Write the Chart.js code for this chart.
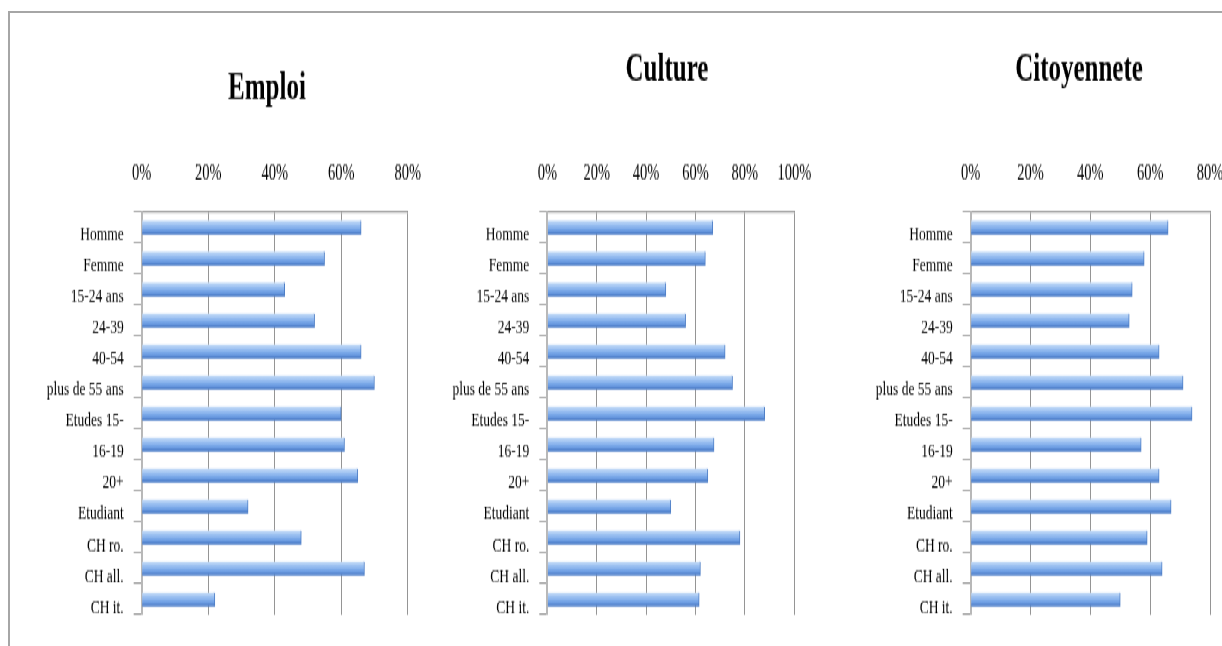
<!DOCTYPE html>
<html><head><meta charset="utf-8">
<script src="https://cdn.jsdelivr.net/npm/chart.js@4.4.1/dist/chart.umd.min.js"></script>
<style>
html,body{margin:0;padding:0;background:#fff;overflow:hidden;width:1222px;height:646px}
#frame{position:absolute;left:8px;top:11px;width:1300px;height:700px;border-left:2px solid #a6a6a6;border-top:2px solid #a6a6a6}
#stage{position:absolute;left:0;top:0;width:1400px;height:417px;transform-origin:0 0;transform:scaleY(1.5492)}
#stage canvas{position:absolute;top:0}
</style></head><body>
<div id="frame"></div>
<div id="stage"></div>
<script>
// ---- data ----
const categories = ['Homme','Femme','15-24 ans','24-39','40-54','plus de 55 ans','Etudes 15-','16-19','20+','Etudiant','CH ro.','CH all.','CH it.'];
const emploiValues = [66, 55, 43, 52, 66, 70, 60, 61, 65, 32, 48, 67, 22];
const cultureValues = [67, 64, 48, 56, 72, 75, 88, 67.5, 65, 50, 78, 62, 61.5];
const citoyenneteValues = [66, 58, 54, 53, 63, 71, 74, 57, 63, 67, 59, 64, 50];
const chartTitles = ['Emploi','Culture','Citoyennete'];
const axisMaxima = [80, 100, 80];
const tickStep = 20;
const seriesList = [emploiValues, cultureValues, citoyenneteValues];

// ---- layout (positions only) ----
const FONT = "'Liberation Serif', 'Times New Roman', serif";
const CANVAS_H = 417;
const specs = [
  {left:10,  plotLeft:141.7, plotRight:407.7, titleCenter:267,  titleTop:42.8, axisH:64.05},
  {left:440, plotLeft:547.3, plotRight:794.3, titleCenter:667,  titleTop:30.8, axisH:76.05},
  {left:850, plotLeft:970.7, plotRight:1210,  titleCenter:1079, titleTop:30.8, axisH:76.05}
];
const padB = CANVAS_H - 615/1.5492;

function barFill(ctx){
  const chart = ctx.chart; const ys = chart.scales && chart.scales.y;
  if (!chart.chartArea || !ys || ctx.dataIndex === undefined) return '#7aa8e8';
  const yc = ys.getPixelForValue(ctx.dataIndex);
  const h = 4.5;
  const g = chart.ctx.createLinearGradient(0, yc - h, 0, yc + h);
  g.addColorStop(0, '#c8def8');
  g.addColorStop(0.3, '#9fc3f2');
  g.addColorStop(0.65, '#74a4e7');
  g.addColorStop(1, '#4677c6');
  return g;
}

const stage = document.getElementById('stage');
specs.forEach((s, i) => {
  const rightSpace = 2*s.titleCenter - s.left - s.plotRight; // keeps title centred where it is
  const W = Math.round(s.plotRight - s.left + rightSpace);
  const yW = s.plotLeft - s.left;
  const cv = document.createElement('canvas');
  cv.width = W; cv.height = CANVAS_H;
  cv.style.left = s.left + 'px';
  stage.appendChild(cv);
  new Chart(cv, {
    type: 'bar',
    data: {
      labels: categories,
      datasets: [{
        data: seriesList[i],
        backgroundColor: barFill,
        borderColor: '#4f7fc6',
        borderWidth: {top:0, right:1, bottom:1, left:0},
        borderSkipped: 'start',
        barThickness: 9
      }]
    },
    options: {
      indexAxis: 'y',
      responsive: false,
      animation: false,
      events: [],
      layout: {padding: {left: 0, right: 0, top: 0, bottom: padB}},
      plugins: {
        legend: {display: false},
        tooltip: {enabled: false},
        title: {
          display: true, text: chartTitles[i], color: '#000',
          font: {family: FONT, size: 25, weight: 'bold'},
          padding: {top: s.titleTop, bottom: 0}
        }
      },
      scales: {
        x: {
          position: 'top', min: 0, max: axisMaxima[i],
          ticks: {stepSize: tickStep, callback: v => v + '%', color: '#000',
                  font: {family: FONT, size: 14.5}, padding: 15.85, maxRotation: 0, autoSkip: false},
          grid: {color: '#959595', lineWidth: 1, drawTicks: false},
          border: {display: true, color: '#959595', width: 1.3},
          afterFit: sc => { sc.height = s.axisH; }
        },
        y: {
          ticks: {color: '#000', font: {family: FONT, size: 13.5}, padding: 10, labelOffset: 5, autoSkip: false},
          grid: {drawOnChartArea: false, drawTicks: true, tickLength: 8, color: '#9a9a9a', offset: true},
          border: {display: true, color: '#b8b8b8', width: 2},
          afterFit: sc => { sc.width = yW; }
        },
        spacer: {
          type: 'linear', position: 'right', display: true,
          ticks: {display: false}, grid: {display: false, drawTicks: false}, border: {display: false},
          afterFit: sc => { sc.width = W - (s.plotRight - s.left); }
        }
      }
    }
  });
});
</script>
</body></html>
